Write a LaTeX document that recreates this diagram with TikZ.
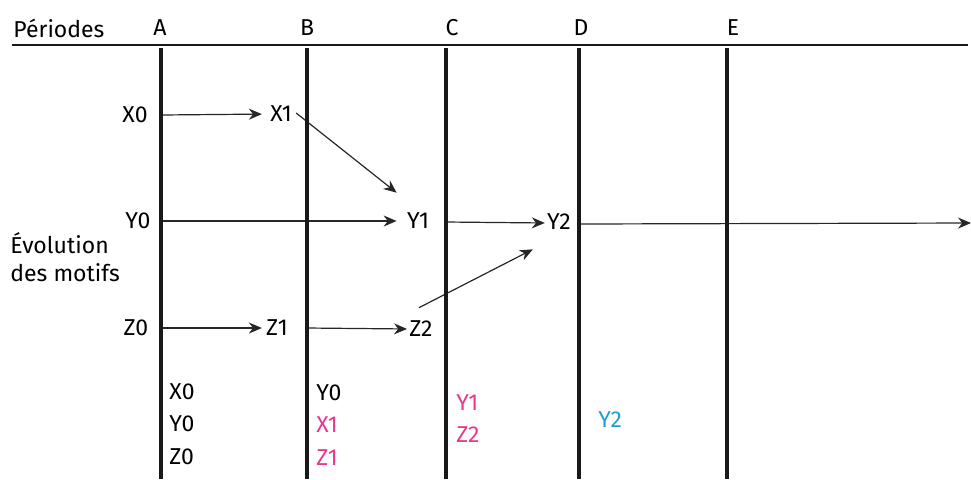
\documentclass[tikz,border=0pt]{standalone}
\usepackage{fontspec}
\setmainfont{Fira Sans}
\usetikzlibrary{arrows.meta,positioning,calc}
\definecolor{motifpink}{HTML}{E8398B}
\definecolor{motifblue}{HTML}{1E9FD6}

\begin{document}
\begin{tikzpicture}[
  x=0.5pt, y=-0.5pt,
  lbl/.style={inner sep=0pt, font=\fontsize{11.5}{14}\selectfont},
  per/.style={line width=2pt, black!90},
  lnk/.style={-{Stealth[length=6.5pt,width=5.5pt]}, line width=0.6pt, black!85},
]
\useasboundingbox (0,0) rectangle (971,479);

%% header
\node[lbl, anchor=west] (periodes) at (13,28) {Périodes};
\draw[line width=1pt, black!90] (12,45) -- (968,45);

%% periods
\foreach \p/\x/\lx in {A/161/160, B/307/307, C/446/452, D/579/581, E/727/733} {
  \node[lbl] (h\p) at (\lx,28) {\p};
  \coordinate (p\p) at (\x,48);
  \coordinate (q\p) at (\x,479);
}

%% motifs
\node[lbl] (X0) at (135,115) {X0};
\node[lbl] (X1) at (281,114) {X1};
\node[lbl] (Y0) at (138,221) {Y0};
\node[lbl] (Y1) at (418,221) {Y1};
\node[lbl] (Y2) at (559,222) {Y2};
\node[lbl] (Z0) at (136,328) {Z0};
\node[lbl] (Z1) at (277,328) {Z1};
\node[lbl] (Z2) at (421,329) {Z2};
\coordinate (fin) at (971,223);

\node[lbl, anchor=west, align=left] (evol) at (10,257)
  {Évolution\\des motifs};

%% links
\draw[lnk, shorten >=4pt] (X0 -| pA) -- (X1.west);
\draw[lnk] ($(X1.east)+(4,-1)$) -- ($(Y1.north west)+(-10,-20)$);
\draw[lnk, shorten >=5pt] (Y0 -| pA) -- (Y1.west);
\draw[lnk, shorten >=1pt] ([yshift=-0.5pt]Y1 -| pC) -- ([yshift=-0.5pt]Y2.west);
\draw[lnk] ([yshift=-1pt]Y2 -| pD) -- (fin);
\draw[lnk, shorten >=2pt] (Z0 -| pA) -- (Z1.west);
\draw[lnk, shorten >=1pt] (Z1 -| pB) -- (Z2.west);
\draw[lnk] ($(Z2.north)+(-2,-13)$) -- ($(Y2.south west)+(-14,19)$);

%% period lines on top
\foreach \p in {A,B,C,D,E}
  \draw[per] (p\p) -- (q\p);

%% motifs per period
\node[lbl, anchor=west] (a1) at (169,392) {X0};
\node[lbl, anchor=west] (a2) at (169,424) {Y0};
\node[lbl, anchor=west] (a3) at (169,457) {Z0};
\node[lbl, anchor=west] (b1) at (316,393) {Y0};
\node[lbl, anchor=west, text=motifpink] (b2) at (316,425) {X1};
\node[lbl, anchor=west, text=motifpink] (b3) at (316,458) {Z1};
\node[lbl, anchor=west, text=motifpink] (c1) at (456,403) {Y1};
\node[lbl, anchor=west, text=motifpink] (c2) at (456,435) {Z2};
\node[lbl, anchor=west, text=motifblue] (d1) at (598,420) {Y2};
\end{tikzpicture}
\end{document}
